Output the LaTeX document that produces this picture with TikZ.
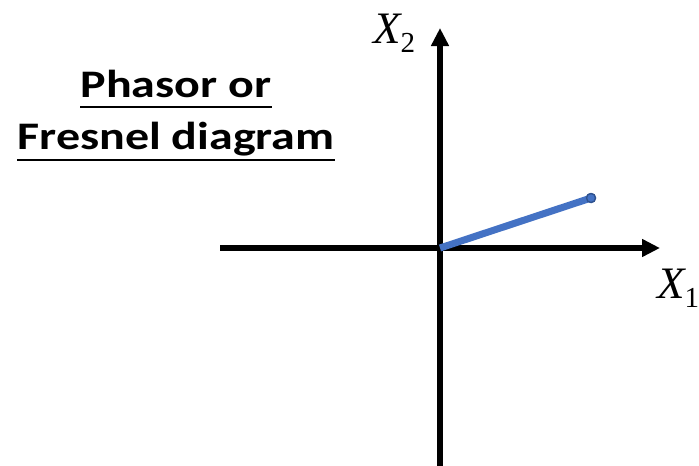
\documentclass[tikz,border=0pt]{standalone}
\usepackage{fontspec}
\setmainfont{Carlito}
\newfontfamily\lserif{Liberation Serif}
\usetikzlibrary{arrows.meta}
\definecolor{phasorblue}{RGB}{68,114,196}
\definecolor{phasoredge}{RGB}{47,82,143}
\newcommand{\axlab}[1]{{\lserif\fontsize{45}{50}\selectfont\itshape X}\raisebox{-9pt}{\lserif\fontsize{29}{30}\selectfont #1}}
\tikzset{
  axis/.style={line width=5.5pt, -{Triangle[length=18pt,width=17pt]}},
  phasorline/.style={line width=7pt, phasorblue},
  tip/.style={circle, fill=phasorblue, draw=phasoredge, line width=1.3pt, minimum size=9pt, inner sep=0pt},
  axlabel/.style={inner sep=0pt},
  title/.style={inner sep=0pt, font=\fontsize{39}{44}\selectfont\bfseries},
  uline/.style={line width=2.5pt}
}
\begin{document}
\begin{tikzpicture}[x=1pt,y=-1pt]
\useasboundingbox (0,0) rectangle (699,466);
\coordinate (O) at (440,248);
\coordinate (bot) at (440,466);
\coordinate (top) at (440,28);
\coordinate (left) at (220,248);
\coordinate (right) at (660,248);
\draw[axis] (bot) -- (top);
\draw[axis] (left) -- (right);
\node[tip] (P) at (591,198) {};
\draw[phasorline] (O) -- (P.center);
\node[tip] (P2) at (591,198) {};
\node[axlabel, anchor=base west] (x2) at (373,43) {\axlab{2}};
\node[axlabel, anchor=base west] (x1) at (657,298) {\axlab{1}};
\node[title, anchor=base] (t1) at (176,97) {\scalebox{1.23}[1]{Phasor or}};
\node[title, anchor=base] (t2) at (176,149) {\scalebox{1.23}[1]{Fresnel diagram}};
\draw[uline] ([yshift=-10pt]t1.base west) -- ([yshift=-10pt]t1.base east);
\draw[uline] ([yshift=-11pt]t2.base west) -- ([yshift=-11pt]t2.base east);
\end{tikzpicture}
\end{document}
